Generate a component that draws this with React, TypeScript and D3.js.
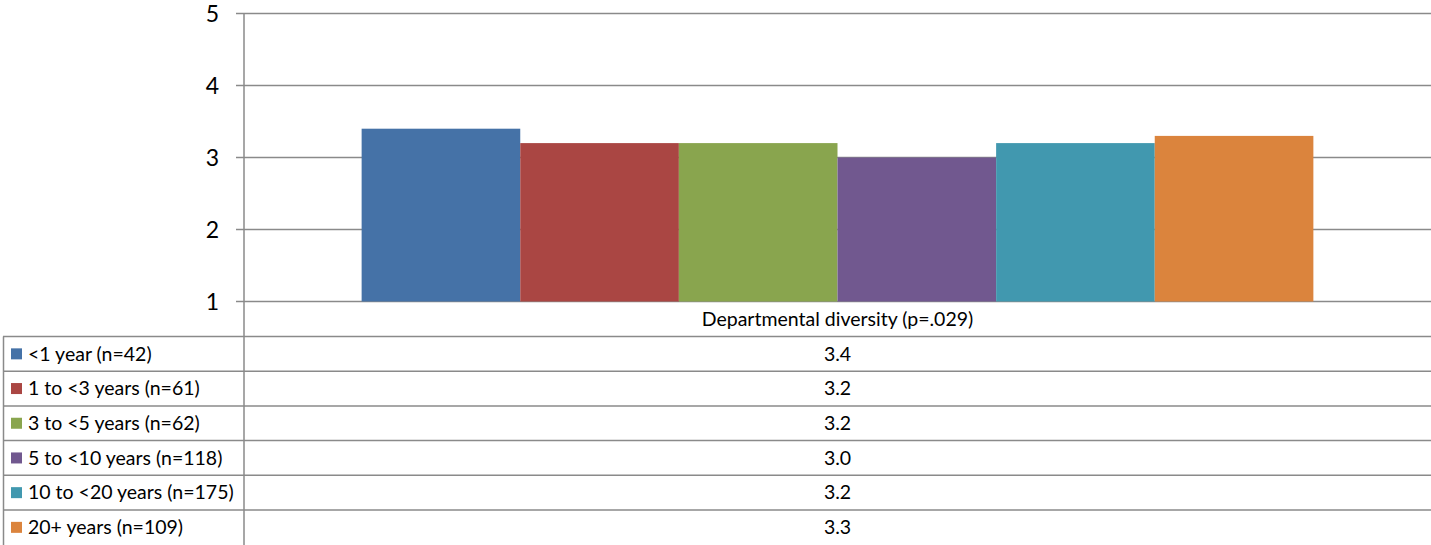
import React from "react";
import * as d3 from "d3";

const categories = ["Departmental diversity (p=.029)"];
const seriesNames = [
  "<1 year (n=42)",
  "1 to <3 years (n=61)",
  "3 to <5 years (n=62)",
  "5 to <10 years (n=118)",
  "10 to <20 years (n=175)",
  "20+ years (n=109)",
];
const seriesValues = [3.4, 3.2, 3.2, 3.0, 3.2, 3.3];
const seriesColors = ["#4572A7", "#AA4643", "#89A54E", "#71588F", "#4198AF", "#DB843D"];
const yTicks = [1, 2, 3, 4, 5];

const W = 1431;
const H = 545;
const FONT = "Lato, 'Open Sans', sans-serif";
const GRID = "#8a8a8a";

export default function App() {
  const left = 244;
  const right = W;
  const y = d3.scaleLinear().domain([1, 5]).range([301.5, 13.5]);
  const x0 = d3.scaleBand<string>().domain(categories).range([left, right]).paddingInner(0.11).paddingOuter(0.11);
  const x1 = d3.scaleBand<string>().domain(seriesNames).range([0, x0.bandwidth()]).padding(0);

  const headerTop = y(1);
  const headerBottom = 336.5;
  const rowH = 34.7;
  const rowTop = (i: number) => headerBottom + i * rowH;

  return (
    <svg width={W} height={H} style={{ position: "absolute", left: 0, top: 0, background: "#fff" }}>
      {yTicks.map((t) => (
        <line key={t} x1={236} x2={right} y1={y(t)} y2={y(t)} stroke={GRID} strokeWidth={1.5} />
      ))}
      {yTicks.map((t) => (
        <text key={"l" + t} x={219} y={y(t)} dy="0.35em" textAnchor="end" fontFamily={FONT} fontSize={23} fill="#000">
          {t}
        </text>
      ))}
      {categories.map((c) =>
        seriesNames.map((s, i) => (
          <rect
            key={c + s}
            x={(x0(c) ?? 0) + (x1(s) ?? 0)}
            width={x1.bandwidth()}
            y={y(seriesValues[i])}
            height={y(1) - y(seriesValues[i])}
            fill={seriesColors[i]}
          />
        ))
      )}
      <line x1={left} x2={left} y1={y(5)} y2={H} stroke={GRID} strokeWidth={1.5} />
      {seriesNames.map((s, i) => (
        <line key={"h" + i} x1={3} x2={right} y1={rowTop(i)} y2={rowTop(i)} stroke={GRID} strokeWidth={1.5} />
      ))}
      <line x1={3.5} x2={3.5} y1={headerBottom} y2={H} stroke={GRID} strokeWidth={1.5} />
      {categories.map((c) => (
        <text
          key={"c" + c}
          x={(x0(c) ?? 0) + x0.bandwidth() / 2}
          y={(headerTop + headerBottom) / 2}
          dy="0.35em"
          textAnchor="middle"
          fontFamily={FONT}
          fontSize={19.5}
          fill="#000"
        >
          {c}
        </text>
      ))}
      {seriesNames.map((s, i) => (
        <g key={"r" + i}>
          <rect x={11} y={rowTop(i) + rowH / 2 - 5.5} width={11} height={11} fill={seriesColors[i]} />
          <text x={28} y={rowTop(i) + rowH / 2} dy="0.35em" fontFamily={FONT} fontSize={19.5} fill="#000">
            {s}
          </text>
          {categories.map((c) => (
            <text
              key={c}
              x={(x0(c) ?? 0) + x0.bandwidth() / 2}
              y={rowTop(i) + rowH / 2}
              dy="0.35em"
              textAnchor="middle"
              fontFamily={FONT}
              fontSize={19.5}
              fill="#000"
            >
              {seriesValues[i].toFixed(1)}
            </text>
          ))}
        </g>
      ))}
    </svg>
  );
}
